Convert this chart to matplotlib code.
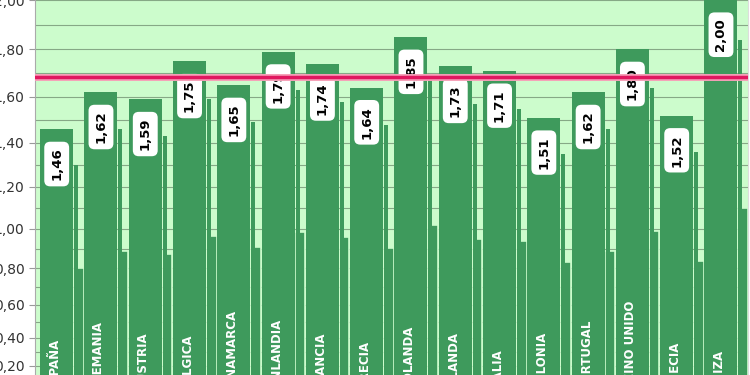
import matplotlib.pyplot as plt
import numpy as np
from matplotlib.ticker import MultipleLocator, FuncFormatter

paises = ['ESPAÑA', 'ALEMANIA', 'AUSTRIA', 'BÉLGICA', 'DINAMARCA', 'FINLANDIA',
          'FRANCIA', 'GRECIA', 'HOLANDA', 'IRLANDA', 'ITALIA', 'POLONIA',
          'PORTUGAL', 'REINO UNIDO', 'SUECIA', 'SUIZA']
valores = [1.46, 1.62, 1.59, 1.75, 1.65, 1.79, 1.74, 1.64, 1.85, 1.73,
           1.71, 1.51, 1.62, 1.80, 1.52, 2.00]
media = np.mean(valores)

verde_fondo = '#ccfccc'
verde_barra = '#3e9a5c'
x = np.arange(len(paises))
v = np.array(valores)

# el original esta algo estirado arriba: escala potencia suave
k = 1.3
fig = plt.figure(figsize=(7.5, 3.75), dpi=100)
fig.patch.set_facecolor('white')
ax = fig.add_axes([35 / 750, 0, 713 / 750, 1])
ax.set_yscale('function', functions=(lambda y: np.sign(y) * np.abs(y) ** k,
                                     lambda y: np.sign(y) * np.abs(y) ** (1 / k)))
ax.set_facecolor(verde_fondo)

# sombras (restos del efecto 3D del original)
ax.bar(x + 0.5, v * 0.55, width=0.22, color=verde_barra,
       edgecolor=verde_fondo, linewidth=1.2, zorder=2)
ax.bar(x + 0.44, v - 0.16, width=0.09, color=verde_barra, zorder=2)
ax.bar(x, v, width=0.745, color=verde_barra, zorder=3)

for xi, val in zip(x, valores):
    ax.annotate(f'{val:.2f}'.replace('.', ','), (xi, val), xytext=(0, -25),
                textcoords='offset points', rotation=90,
                ha='center', va='center', fontsize=9.5, fontweight='bold',
                color='black', zorder=5,
                bbox=dict(boxstyle='round,pad=0.45', fc='white', ec='none'))

for xi, nombre in zip(x, paises):
    ax.text(xi - 0.05, -0.04, nombre, rotation=90, ha='center', va='bottom',
            fontsize=8.5, fontweight='bold', color='white', zorder=5,
            transform=ax.get_xaxis_transform(), clip_on=True)

ax.axhline(media, color='#f6a0b8', linewidth=5, zorder=6)
ax.axhline(media, color='#e0175f', linewidth=2.5, zorder=7)

ax.set_xlim(-0.49, 15.61)
ax.set_ylim(0.122, 2.0)
ax.yaxis.set_major_locator(MultipleLocator(0.2))
ax.yaxis.set_minor_locator(MultipleLocator(0.1))
ax.yaxis.set_major_formatter(FuncFormatter(lambda y, p: f'{y:.2f}'.replace('.', ',')))
ax.grid(which='both', axis='y', color='#86a886', linewidth=0.8, zorder=1)
ax.set_axisbelow(True)
ax.set_xticks([])
ax.tick_params(axis='y', which='major', labelsize=10, labelcolor='#333333',
               length=4, color='#999999')
ax.tick_params(axis='y', which='minor', length=0)

for s in ['top', 'bottom']:
    ax.spines[s].set_visible(False)
ax.spines['left'].set_color('#aaaaaa')
ax.spines['right'].set_color('#dddddd')

plt.savefig('out.png', dpi=100)
